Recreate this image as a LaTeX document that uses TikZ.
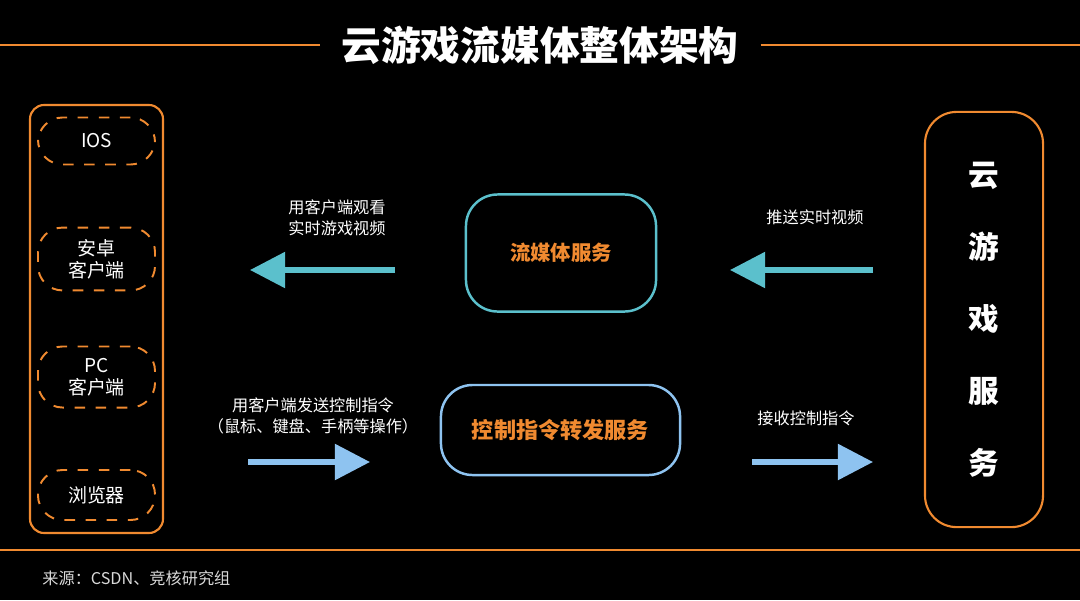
\documentclass[tikz,border=0pt]{standalone}
\usepackage{fontspec}
\setmainfont{Noto Sans CJK SC}
\usetikzlibrary{arrows.meta}
\definecolor{org}{HTML}{F08A30}
\definecolor{cyn}{HTML}{5BC0CC}
\definecolor{lbl}{HTML}{8EC3F0}
\tikzset{
 px/.style={x=0.01cm,y=-0.01cm},
 dev/.style={draw=org,dashed,line width=0.55pt,rounded corners=7pt,text=white,align=center,font=\fontsize{5.4}{6.2}\selectfont},
 lab/.style={text=white,align=center,font=\fontsize{4.6}{6}\selectfont},
 fat/.style={line width=1.5pt,-{Triangle[length=10pt,width=10pt]}},
}
\begin{document}
\begin{tikzpicture}[px]
\fill[black] (0,0) rectangle (1080,600);
\useasboundingbox (0,0) rectangle (1080,600);
\node[text=white,inner xsep=6pt,font=\fontsize{11.3}{12}\selectfont\bfseries] (title) at (540,45) {云游戏流媒体整体架构};
\draw[org,line width=0.8pt] (0,45) -- (title.west);
\draw[org,line width=0.8pt] (title.east) -- (1080,45);
\draw[org,line width=0.6pt,rounded corners=4pt] (30,105) rectangle (163,533);
\node[dev,minimum width=117*0.2845pt,minimum height=47*0.2845pt] (ios) at (96.5,141) {IOS};
\node[dev,minimum width=117*0.2845pt,minimum height=55*0.2845pt] (and) at (96.5,259) {安卓\\客户端};
\node[dev,minimum width=117*0.2845pt,minimum height=55*0.2845pt] (pc) at (96.5,377) {PC\\客户端};
\node[dev,minimum width=117*0.2845pt,minimum height=50*0.2845pt] (br) at (96.5,495) {浏览器};
\node[draw=org,line width=0.6pt,rounded corners=9pt,minimum width=118*0.2845pt,minimum height=415*0.2845pt,text=white,align=center,font=\fontsize{8.7}{20.5}\selectfont\bfseries] (cloud) at (984,319.5) {云\\游\\戏\\服\\务};
\node[draw=cyn,line width=0.7pt,rounded corners=9pt,minimum width=190*0.2845pt,minimum height=117*0.2845pt,text=org,font=\fontsize{5.8}{7}\selectfont\bfseries] (media) at (561,253) {流媒体服务};
\node[draw=lbl,line width=0.7pt,rounded corners=9pt,minimum width=239*0.2845pt,minimum height=90*0.2845pt,text=org,font=\fontsize{6.3}{7}\selectfont\bfseries] (ctrl) at (560.5,430) {控制指令转发服务};
\coordinate (a1s) at (395,270); \coordinate (a1e) at (250,270);
\coordinate (a2s) at (873,270); \coordinate (a2e) at (730,270);
\coordinate (b1s) at (248,462); \coordinate (b1e) at (370,462);
\coordinate (b2s) at (752,462); \coordinate (b2e) at (873,462);
\draw[fat,cyn] (a1s) -- (a1e);
\draw[fat,cyn] (a2s) -- (a2e);
\draw[fat,lbl] (b1s) -- (b1e);
\draw[fat,lbl] (b2s) -- (b2e);
\node[lab] (l1) at (337,218) {用客户端观看\\实时游戏视频};
\node[lab] (l2) at (815,217) {推送实时视频};
\node[lab] (l3) at (313,416) {用客户端发送控制指令\\（鼠标、键盘、手柄等操作）};
\node[lab] (l4) at (806,418) {接收控制指令};
\draw[org,line width=0.6pt] (0,550) -- (1080,550);
\node[anchor=west,text=white!85!black,font=\fontsize{4.6}{6}\selectfont] (src) at (30,578) {来源：CSDN、竞核研究组};
\end{tikzpicture}
\end{document}
